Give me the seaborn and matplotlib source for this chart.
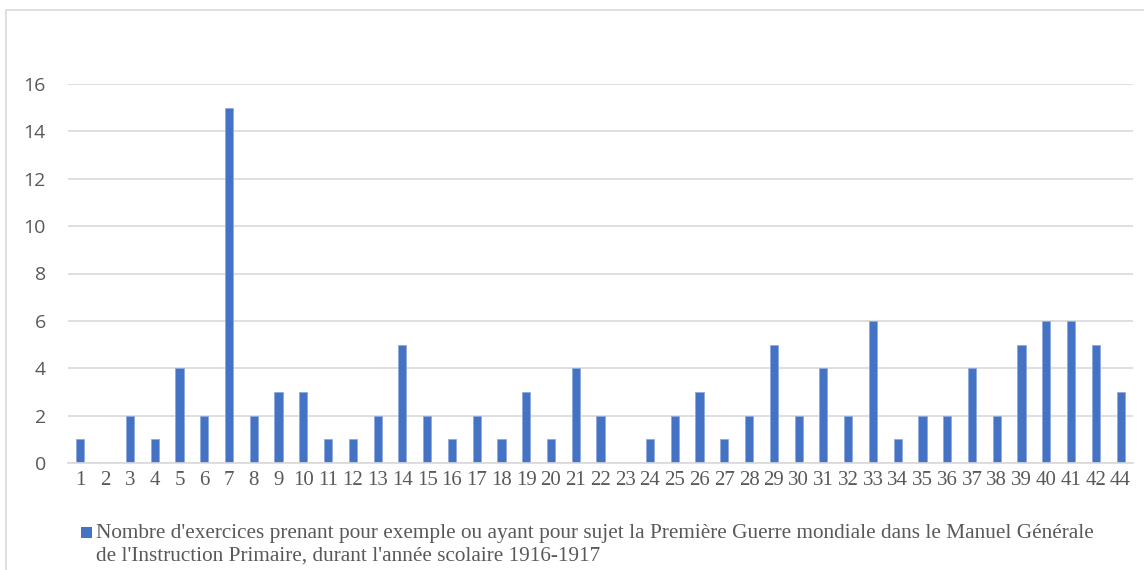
import numpy as np
import pandas as pd
import matplotlib
matplotlib.use("Agg")
import matplotlib.pyplot as plt
from matplotlib.patches import Rectangle
import seaborn as sns

# données
semaines = [str(i) for i in range(1, 43)] + ["44"]
exercices = [1, 0, 2, 1, 4, 2, 15, 2, 3, 3, 1, 1, 2, 5, 2, 1, 2, 1, 3, 1, 4, 2,
             0, 1, 2, 3, 1, 2, 5, 2, 4, 2, 6, 1, 2, 2, 4, 2, 5, 6, 6, 5, 3]
legende = ("Nombre d'exercices prenant pour exemple ou ayant pour sujet la Première Guerre mondiale dans le Manuel Générale\n"
           "de l'Instruction Primaire, durant l'année scolaire 1916-1917")

bleu = "#4472C4"
gris_txt = "#595959"

df = pd.DataFrame({"semaine": semaines, "n": exercices})

sns.set_theme(style="white")
fig = plt.figure(figsize=(11.44, 5.70), dpi=100)
ax = fig.add_axes([68 / 1144, 1 - 463 / 570, (1133 - 68) / 1144, (463 - 84) / 570])

sns.barplot(data=df, x="semaine", y="n", order=semaines, color=bleu,
            saturation=1, width=0.33, edgecolor="#8FAADC", linewidth=0.6, ax=ax)

ax.set_ylim(0, 16)
ax.set_xlim(-0.5, len(semaines) - 0.5)
ax.set_yticks(np.arange(0, 17, 2))
ax.yaxis.grid(True, color="#D9D9D9", linewidth=1.2)
ax.set_axisbelow(True)
for s in ["top", "right", "left"]:
    ax.spines[s].set_visible(False)
ax.spines["bottom"].set_color("#D9D9D9")
ax.spines["bottom"].set_linewidth(1.2)
ax.set_xlabel("")
ax.set_ylabel("")
ax.tick_params(axis="both", length=0)
ax.tick_params(axis="y", pad=16)
ax.tick_params(axis="x", pad=6)
for lab in ax.get_yticklabels():
    lab.set_family("Open Sans")
    lab.set_fontsize(14)
    lab.set_color(gris_txt)
for lab in ax.get_xticklabels():
    lab.set_family("Liberation Serif")
    lab.set_fontsize(15)
    lab.set_color(gris_txt)

# légende (carré + texte sur deux lignes)
fig.patches.append(Rectangle((81 / 1144, 1 - 538 / 570), 11 / 1144, 11 / 570,
                             transform=fig.transFigure, facecolor=bleu,
                             edgecolor="none"))
fig.text(96 / 1144, 1 - 524 / 570, legende, ha="left", va="top",
         family="Liberation Serif", fontsize=15.3, color=gris_txt,
         linespacing=1.25)

# cadre du graphique
fig.patches.append(Rectangle((6 / 1144, -0.1), 1.2, 1 - 10 / 570 + 0.1,
                             transform=fig.transFigure, fill=False,
                             edgecolor="#D9D9D9", linewidth=1.2))

fig.savefig("out.png", dpi=100, facecolor="white")
